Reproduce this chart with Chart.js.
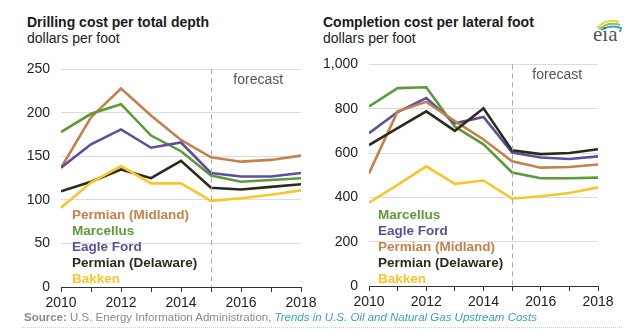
<!DOCTYPE html>
<html>
<head>
<meta charset="utf-8">
<script src="https://cdn.jsdelivr.net/npm/chart.js@4.4.1/dist/chart.umd.min.js"></script>
<style>
    html, body { margin: 0; padding: 0; background: #fff; }
    body { width: 640px; height: 332px; position: relative; overflow: hidden; font-family: "Liberation Sans", Arial, sans-serif; }
    .titulo { position: absolute; font-size: 14px; font-weight: bold; color: #1a1a1a; white-space: nowrap; }
    .unidad { position: absolute; font-size: 14px; color: #222; white-space: nowrap; }
    .leyenda { position: absolute; font-size: 13.5px; font-weight: bold; line-height: 16px; white-space: nowrap; }
    .fuente { position: absolute; left: 24px; top: 311px; font-size: 11.5px; color: #8a8a8a; white-space: nowrap; }
    .fuente b { color: #8a8a8a; }
    .fuente i { color: #3c9ec0; }
    .linea { position: absolute; left: 22px; top: 327px; width: 600px; border-top: 1px dotted #d0d0d0; }
    canvas { position: absolute; }
    #logo { position: absolute; left: 583px; top: 12px; }
</style>
</head>
<body>
<div class="titulo" style="left:27px; top:14px;">Drilling cost per total depth</div>
<div class="unidad" style="left:27px; top:30px;">dollars per foot</div>
<div class="titulo" style="left:323px; top:14px;">Completion cost per lateral foot</div>
<div class="unidad" style="left:323px; top:30px;">dollars per foot</div>

<svg id="logo" width="46" height="34" viewBox="0 0 46 34">
    <path d="M14 16 Q24 6 36 10" stroke="#f2d04a" stroke-width="2" fill="none"/>
    <path d="M16 17 Q26 9 37 13" stroke="#8cc152" stroke-width="2" fill="none"/>
    <path d="M18 18 Q28 12 38 16 L37 20" stroke="#3aa3d0" stroke-width="2" fill="none"/>
    <text x="10" y="29" font-family="Liberation Serif, serif" font-size="21" fill="#555">eia</text>
</svg>

<canvas id="graficaPerforacion" width="320" height="265" style="left:0; top:50px;"></canvas>
<canvas id="graficaTerminacion" width="320" height="270" style="left:320px; top:45px;"></canvas>

<div id="leyendaIzq"></div>
<div id="leyendaDer"></div>

<div class="fuente"><b>Source:</b> U.S. Energy Information Administration, <i>Trends in U.S. Oil and Natural Gas Upstream Costs</i></div>
<div class="linea"></div>

<script>
// Datos
const anios = [2010, 2011, 2012, 2013, 2014, 2015, 2016, 2017, 2018];

// Costo de perforación (dólares por pie)
const midlandPerf   = [137, 195, 228, 197, 169, 149, 144, 146, 151];
const marcellusPerf = [178, 199, 210, 174, 156, 128, 121, 123, 125];
const eagleFordPerf = [137, 164, 181, 160, 166, 131, 127, 127, 131];
const delawarePerf  = [110, 121, 135, 125, 145, 114, 112, 115, 118];
const bakkenPerf    = [91, 120, 139, 119, 119, 99, 102, 106, 111];

// Costo de terminación (dólares por pie lateral)
const midlandTerm   = [508, 788, 831, 744, 661, 563, 534, 537, 548];
const marcellusTerm = [810, 893, 897, 719, 639, 512, 486, 486, 489];
const eagleFordTerm = [690, 785, 848, 734, 763, 602, 580, 573, 585];
const delawareTerm  = [636, 712, 788, 700, 802, 612, 595, 600, 617];
const bakkenTerm    = [376, 456, 540, 461, 476, 394, 405, 420, 445];

const ticksPerf = [0, 50, 100, 150, 200, 250];
const ticksTerm = [0, 200, 400, 600, 800, 1000];
const anioPronostico = 2015;

const colores = {
    'Permian (Midland)': '#c4814a',
    'Marcellus': '#5d9a38',
    'Eagle Ford': '#5e4e9e',
    'Permian (Delaware)': '#2c2a18',
    'Bakken': '#fac52a'
};

const ordenPerf = ['Permian (Midland)', 'Marcellus', 'Eagle Ford', 'Permian (Delaware)', 'Bakken'];
const ordenTerm = ['Marcellus', 'Eagle Ford', 'Permian (Midland)', 'Permian (Delaware)', 'Bakken'];

const fuente = '"Liberation Sans", Arial, sans-serif';

// Línea de pronóstico y texto "forecast"
const pluginPronostico = {
    id: 'pronostico',
    afterDatasetsDraw(chart) {
        const { ctx, chartArea, scales } = chart;
        const x = Math.round(scales.x.getPixelForValue(anioPronostico)) + 0.5;
        ctx.save();
        ctx.strokeStyle = '#a8a8a8';
        ctx.lineWidth = 1;
        ctx.setLineDash([5, 4]);
        ctx.beginPath();
        ctx.moveTo(x, chartArea.top);
        ctx.lineTo(x, chartArea.bottom);
        ctx.stroke();
        ctx.setLineDash([]);
        ctx.fillStyle = '#555';
        ctx.font = '14px ' + fuente;
        ctx.textAlign = 'center';
        ctx.textBaseline = 'middle';
        ctx.fillText('forecast', (x + chartArea.right) / 2 + 2, chartArea.top + 11);
        ctx.restore();
    }
};

function crearGrafica(id, series, orden, marcas, formato, ejeY, relleno, altoX) {
    const ctx = document.getElementById(id).getContext('2d');
    return new Chart(ctx, {
        type: 'line',
        data: {
            labels: anios,
            datasets: orden.slice().reverse().map(nombre => ({
                label: nombre,
                data: series[nombre].map((v, i) => ({ x: anios[i], y: v })),
                borderColor: colores[nombre],
                borderWidth: 2.6,
                pointRadius: 0,
                tension: 0,
                fill: false
            }))
        },
        options: {
            responsive: false,
            animation: false,
            layout: { padding: relleno },
            plugins: { legend: { display: false }, tooltip: { enabled: false } },
            scales: {
                x: {
                    type: 'linear',
                    min: 2010,
                    max: 2018,
                    afterFit: (s) => { s.height = altoX; },
                    afterBuildTicks: (s) => { s.ticks = anios.map(a => ({ value: a })); },
                    grid: { drawOnChartArea: false, drawTicks: true, tickLength: 5, color: '#333' },
                    border: { display: true, color: '#333', width: 1 },
                    ticks: {
                        autoSkip: false,
                        maxRotation: 0,
                        padding: 3,
                        color: '#222',
                        font: { family: fuente, size: 14 },
                        callback: (v) => (v % 2 === 0 ? String(v) : '')
                    }
                },
                y: {
                    min: marcas[0],
                    max: marcas[marcas.length - 1],
                    afterFit: (s) => { s.width = ejeY; },
                    afterBuildTicks: (s) => { s.ticks = marcas.map(m => ({ value: m })); },
                    grid: { color: '#dcdcdc', drawTicks: false, lineWidth: 1 },
                    border: { display: false },
                    ticks: {
                        padding: 11,
                        color: '#222',
                        font: { family: fuente, size: 14 },
                        callback: formato
                    }
                }
            }
        },
        plugins: [pluginPronostico]
    });
}

crearGrafica('graficaPerforacion', {
    'Permian (Midland)': midlandPerf,
    'Marcellus': marcellusPerf,
    'Eagle Ford': eagleFordPerf,
    'Permian (Delaware)': delawarePerf,
    'Bakken': bakkenPerf
}, ordenPerf, ticksPerf, (v) => String(v), 61, { left: 0, right: 19, top: 10, bottom: 0 }, 28);

crearGrafica('graficaTerminacion', {
    'Permian (Midland)': midlandTerm,
    'Marcellus': marcellusTerm,
    'Eagle Ford': eagleFordTerm,
    'Permian (Delaware)': delawareTerm,
    'Bakken': bakkenTerm
}, ordenTerm, ticksTerm, (v) => v.toLocaleString('en-US'), 49, { left: 0, right: 42, top: 12, bottom: 0 }, 29);

// Leyendas como texto de color
function pintarLeyenda(id, orden, izq) {
    const cont = document.getElementById(id);
    orden.forEach((nombre, i) => {
        const d = document.createElement('div');
        d.className = 'leyenda';
        d.textContent = nombre;
        d.style.left = izq + 'px';
        d.style.top = (207 + i * 16) + 'px';
        d.style.color = colores[nombre];
        cont.appendChild(d);
    });
}
pintarLeyenda('leyendaIzq', ordenPerf, 72);
pintarLeyenda('leyendaDer', ordenTerm, 378);
</script>
</body>
</html>
